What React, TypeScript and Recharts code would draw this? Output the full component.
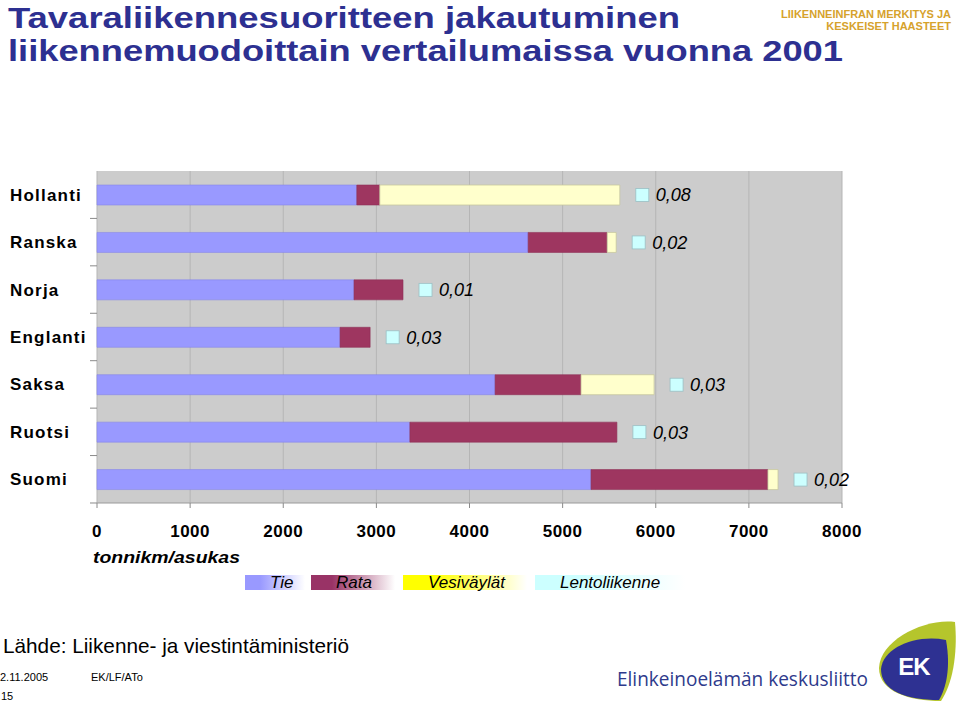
import React from 'react'
import { BarChart, Bar, XAxis, YAxis, CartesianGrid, LabelList, Legend } from 'recharts'

// tonnikm/asukas, vuosi 2001
const countries = ['Hollanti', 'Ranska', 'Norja', 'Englanti', 'Saksa', 'Ruotsi', 'Suomi']
const tie = [2790, 4630, 2760, 2610, 4275, 3360, 5305]
const rata = [247, 849, 526, 323, 923, 2223, 1900]
const vesi = [2577, 96, 0, 0, 784, 0, 108]
const lento = [0.08, 0.02, 0.01, 0.03, 0.03, 0.03, 0.02]
const xTicks = [0, 1000, 2000, 3000, 4000, 5000, 6000, 7000, 8000]

const seriesNames = ['Tie', 'Rata', 'Vesiväylät', 'Lentoliikenne']
const legendColors = ['#9999FF', '#993366', '#FFFF00', '#CCFFFF']

const data = countries.map((name, i) => ({
  name,
  tie: tie[i],
  rata: rata[i],
  vesi: vesi[i],
  lento: lento[i],
}))

const FONT = '"Liberation Sans", Arial, sans-serif'

const fmt = (v: number) => v.toFixed(2).replace('.', ',')

const YTick = (props: any) => {
  const { y, payload } = props
  return (
    <g>
      <text x={10} y={y} dy="0.35em" fontSize={17} fontWeight="bold" letterSpacing={1.2} fill="#000" fontFamily={FONT}>
        {payload.value}
      </text>
      <line x1={90} x2={97} y1={y + 23.7} y2={y + 23.7} stroke="#8a8a8a" />
    </g>
  )
}

const LentoLabel = (props: any) => {
  const { x, y, width, height, value } = props
  const sx = x + width + 16
  const cy = y + height / 2
  return (
    <g>
      <rect x={sx} y={cy - 6.5} width={13} height={13} fill="#CCFFFF" stroke="#9BBFC4" strokeWidth={0.8} />
      <text x={sx + 20} y={cy} dy="0.36em" fontSize={18} fontStyle="italic" fill="#000" fontFamily={FONT}>
        {fmt(value)}
      </text>
    </g>
  )
}

const legendWidths = [60, 84, 124, 150]
const legendGaps = [6, 8, 8, 0]

const renderLegend = () => (
  <div style={{ display: 'flex', fontFamily: FONT }}>
    {seriesNames.map((n, i) => (
      <div
        key={n}
        style={{
          width: legendWidths[i],
          marginRight: legendGaps[i],
          height: 15,
          position: 'relative',
          background: `linear-gradient(90deg, ${legendColors[i]} 0%, ${legendColors[i]} 25%, #ffffff 100%)`,
        }}
      >
        <span
          style={{
            position: 'absolute',
            left: 25,
            top: -2,
            fontSize: 17,
            fontStyle: 'italic',
            lineHeight: '19px',
            whiteSpace: 'nowrap',
            color: '#000',
          }}
        >
          {n}
        </span>
      </div>
    ))}
  </div>
)

export default function App() {
  return (
    <div style={{ position: 'absolute', left: 0, top: 0, width: 959, height: 702, background: '#fff', overflow: 'hidden' }}>
      <BarChart
        width={959}
        height={702}
        data={data}
        layout="vertical"
        barSize={20}
        margin={{ top: 171, right: 117, bottom: 169, left: 0 }}
      >
        <CartesianGrid horizontal={false} fill="#CCCCCC" stroke="#B5B5B5" />
        <XAxis
          type="number"
          domain={[0, 8000]}
          ticks={xTicks}
          height={30}
          interval={0}
          axisLine={{ stroke: '#9a9a9a' }}
          tickLine={{ stroke: '#8a8a8a' }}
          tickSize={5}
          tickMargin={17}
          tick={{ fontSize: 17, fontWeight: 'bold', fill: '#000', fontFamily: FONT, letterSpacing: 0.5 }}
        />
        <YAxis
          type="category"
          dataKey="name"
          width={97}
          axisLine={false}
          tickLine={false}
          tick={<YTick />}
        />
        <Legend
          layout="horizontal"
          verticalAlign="middle"
          align="center"
          content={renderLegend}
          wrapperStyle={{ top: 575, left: 245, width: 460, height: 16 }}
        />
        <Bar dataKey="tie" name="Tie" stackId="a" fill="#9999FF" stroke="#8686E6" strokeWidth={0.6} isAnimationActive={false} />
        <Bar dataKey="rata" name="Rata" stackId="a" fill="#9E3660" stroke="#8E3057" strokeWidth={0.6} isAnimationActive={false} />
        <Bar dataKey="vesi" name="Vesiväylät" stackId="a" fill="#FFFFCC" stroke="#C8C8A0" strokeWidth={0.8} isAnimationActive={false} />
        <Bar dataKey="lento" name="Lentoliikenne" stackId="a" fill="#CCFFFF" isAnimationActive={false}>
          <LabelList dataKey="lento" content={<LentoLabel />} />
        </Bar>
      </BarChart>
      <svg width={959} height={702} style={{ position: 'absolute', left: 0, top: 0, pointerEvents: 'none' }}>
        <g fontFamily={FONT}>
          <text x={8} y={28} fontSize={30} fontWeight="bold" fill="#2D3091" textLength={672} lengthAdjust="spacingAndGlyphs">
            Tavaraliikennesuoritteen jakautuminen
          </text>
          <text x={8} y={61} fontSize={30} fontWeight="bold" fill="#2D3091" textLength={835} lengthAdjust="spacingAndGlyphs">
            liikennemuodoittain vertailumaissa vuonna 2001
          </text>
          <text x={951} y={17.5} fontSize={11} fontWeight="bold" fill="#D6A22C" textAnchor="end">
            LIIKENNEINFRAN MERKITYS JA
          </text>
          <text x={951} y={29.5} fontSize={11} fontWeight="bold" fill="#D6A22C" textAnchor="end">
            KESKEISET HAASTEET
          </text>
          <text x={93} y={563} fontSize={17} fontWeight="bold" fontStyle="italic" fill="#000" textLength={147} lengthAdjust="spacingAndGlyphs">
            tonnikm/asukas
          </text>
          <text x={3} y={653} fontSize={21} fill="#000" textLength={346} lengthAdjust="spacingAndGlyphs">
            Lähde: Liikenne- ja viestintäministeriö
          </text>
          <text x={0} y={681} fontSize={11} fill="#000">2.11.2005</text>
          <text x={91} y={681} fontSize={11} fill="#000">EK/LF/ATo</text>
          <text x={1} y={700} fontSize={11} fill="#000">15</text>
          <text x={617} y={686} fontSize={20} fill="#2E3A8C" fontFamily='"Open Sans", sans-serif' textLength={251} lengthAdjust="spacingAndGlyphs">
            Elinkeinoelämän keskusliitto
          </text>
        </g>
        <path d="M 879 668 C 880 640, 925 618, 955 622 C 958 655, 952 685, 941 701 C 910 701, 879 692, 879 668 Z" fill="#B5C52C" />
        <path d="M 881 669 C 883 648, 915 634, 946 640 C 951 668, 946 688, 939 700 C 906 700, 881 691, 881 669 Z" fill="#2E3192" />
        <text x={914} y={675} fontSize={24} fontWeight="bold" fill="#fff" textAnchor="middle" fontFamily={FONT} letterSpacing={-1}>
          EK
        </text>
      </svg>
    </div>
  )
}
